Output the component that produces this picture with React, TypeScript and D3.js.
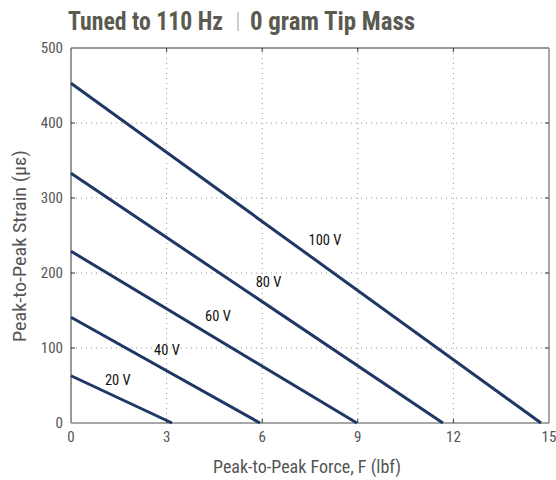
import React from "react";
import * as d3 from "d3";

const voltages = ["20 V", "40 V", "60 V", "80 V", "100 V"];
const strainAtZeroForce = [63, 141, 229, 333, 453];
const forceAtZeroStrain = [3.17, 5.93, 8.97, 11.67, 14.75];
const labelForce = [1.47, 3.01, 4.61, 6.2, 7.97];
const labelStrain = [57, 97, 143, 188, 244];
const xTicks = [0, 3, 6, 9, 12, 15];
const yTicks = [0, 100, 200, 300, 400, 500];

const W = 556, H = 480;
const M = { left: 71, right: 7, top: 48, bottom: 57 };
const FONT = "'Liberation Sans Narrow', 'Roboto Condensed', Roboto, sans-serif";

export default function App() {
  const x = d3.scaleLinear().domain([0, 15]).range([M.left, W - M.right]);
  const y = d3.scaleLinear().domain([0, 500]).range([H - M.bottom, M.top]);
  const line = d3.line<[number, number]>().x(d => x(d[0])).y(d => y(d[1]));
  const navy = "#1e3765";
  const axisCol = "#8a8a8a";
  const textCol = "#555";
  return (
    <svg width={W} height={H} style={{ position: "absolute", left: 0, top: 0, background: "#fff" }}>
      <text x={68} y={30} fontFamily={FONT} fontWeight="bold" fontSize={25} fill="#5a5a50" textLength={155} lengthAdjust="spacingAndGlyphs">Tuned to 110 Hz</text>
      <line x1={238} x2={238} y1={12} y2={31} stroke="#ccc" strokeWidth={2} />
      <text x={250} y={30} fontFamily={FONT} fontWeight="bold" fontSize={25} fill="#5a5a50" textLength={165} lengthAdjust="spacingAndGlyphs">0 gram Tip Mass</text>
      {/* grid */}
      {xTicks.slice(1, -1).map(t => (
        <line key={"gx" + t} x1={x(t)} x2={x(t)} y1={y(500)} y2={y(0)} stroke="#999" strokeWidth={1} strokeDasharray="1,4" />
      ))}
      {yTicks.slice(1, -1).map(t => (
        <line key={"gy" + t} x1={x(0)} x2={x(15)} y1={y(t)} y2={y(t)} stroke="#999" strokeWidth={1} strokeDasharray="1,4" />
      ))}
      {/* frame */}
      <line x1={x(0)} x2={x(15)} y1={y(500)} y2={y(500)} stroke="#333" strokeWidth={1.2} />
      <line x1={x(15)} x2={x(15)} y1={y(500)} y2={y(0)} stroke={axisCol} strokeWidth={1.5} />
      <line x1={x(0)} x2={x(0)} y1={y(500)} y2={y(0)} stroke="#555" strokeWidth={1.2} />
      <line x1={x(0)} x2={x(15)} y1={y(0)} y2={y(0)} stroke={axisCol} strokeWidth={1.5} />
      {xTicks.slice(1, -1).map(t => (
        <g key={"tx" + t}>
          <line x1={x(t)} x2={x(t)} y1={y(0)} y2={y(0) - 4} stroke="#333" />
          <line x1={x(t)} x2={x(t)} y1={y(500)} y2={y(500) + 4} stroke="#333" />
        </g>
      ))}
      {yTicks.slice(1, -1).map(t => (
        <g key={"ty" + t}>
          <line x1={x(0)} x2={x(0) + 4} y1={y(t)} y2={y(t)} stroke="#333" />
          <line x1={x(15)} x2={x(15) - 4} y1={y(t)} y2={y(t)} stroke="#333" />
        </g>
      ))}
      {xTicks.map(t => (
        <text key={"lx" + t} x={x(t)} y={y(0) + 19} textAnchor="middle" fontFamily={FONT} fontSize={15} fill={textCol}>{t}</text>
      ))}
      {yTicks.map(t => (
        <text key={"ly" + t} x={x(0) - 8} y={y(t) + 5} textAnchor="end" fontFamily={FONT} fontSize={15} fill={textCol}>{t}</text>
      ))}
      {/* lines */}
      {voltages.map((v, i) => (
        <path key={v} d={line([[0, strainAtZeroForce[i]], [forceAtZeroStrain[i], 0]]) || ""} stroke={navy} strokeWidth={3} fill="none" />
      ))}
      {voltages.map((v, i) => (
        <text key={"vl" + v} x={x(labelForce[i])} y={y(labelStrain[i]) + 5} textAnchor="middle" fontFamily={FONT} fontSize={14.5} fill="#111">{v}</text>
      ))}
      <text x={307} y={473} textAnchor="middle" fontFamily={FONT} fontSize={18} fill={textCol} textLength={188} lengthAdjust="spacingAndGlyphs">Peak-to-Peak Force, F (lbf)</text>
      <text transform={`translate(26,246) rotate(-90)`} textAnchor="middle" fontFamily={FONT} fontSize={18} fill={textCol} textLength={192} lengthAdjust="spacingAndGlyphs">Peak-to-Peak Strain (με)</text>
    </svg>
  );
}
